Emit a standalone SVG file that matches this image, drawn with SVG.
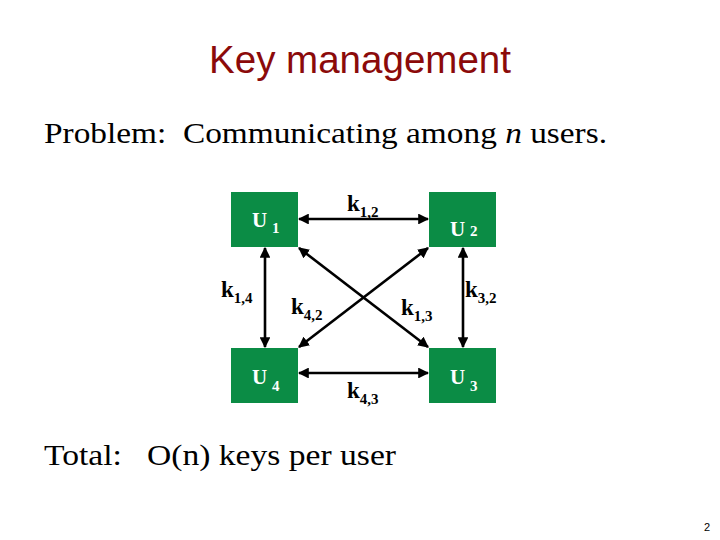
<svg xmlns="http://www.w3.org/2000/svg" width="720" height="540" viewBox="0 0 720 540">
<style>
.title{font-family:"Liberation Sans","Open Sans",sans-serif;font-size:38px;fill:#8b0a0a}
.body{font-family:"Liberation Serif","DejaVu Serif",serif;font-size:30px;fill:#000;white-space:pre}
.box{fill:#0b8c45}
.ul{font-family:"Liberation Serif",serif;font-size:21px;font-weight:bold;fill:#fff}
.kl{font-family:"Liberation Serif",serif;font-size:23px;font-weight:bold;fill:#000}
.sub{font-size:15px}
.con line{stroke:#000;stroke-width:2.6;marker-start:url(#ah);marker-end:url(#ah)}
</style>
<defs>
<marker id="ah" viewBox="0 0 10 10" refX="9" refY="5" markerWidth="4.2" markerHeight="4.2" orient="auto-start-reverse" markerUnits="strokeWidth">
<path d="M0,0 L10,5 L0,10 z" fill="#000"/>
</marker>
</defs>
<rect width="720" height="540" fill="#fff"/>
<text class="title" x="360" y="73" text-anchor="middle" textLength="302" lengthAdjust="spacingAndGlyphs">Key management</text>
<text class="body" x="44" y="143" textLength="563" lengthAdjust="spacingAndGlyphs">Problem:  Communicating among <tspan font-style="italic">n</tspan> users.</text>
<g class="con">
<line x1="299" y1="219" x2="428" y2="219"/>
<line x1="299" y1="373" x2="428" y2="373"/>
<line x1="265" y1="248" x2="265" y2="347"/>
<line x1="463" y1="248" x2="463" y2="347"/>
<line x1="299" y1="248" x2="428" y2="347"/>
<line x1="428" y1="248" x2="299" y2="347"/>
</g>
<g id="U1"><rect class="box" x="231" y="192" width="67" height="55"/><text class="ul" x="252" y="227">U<tspan class="sub" x="272" dy="6">1</tspan></text></g>
<g id="U2"><rect class="box" x="429" y="192" width="67" height="55"/><text class="ul" x="450" y="236">U<tspan class="sub" x="470" dy="0">2</tspan></text></g>
<g id="U4"><rect class="box" x="231" y="348" width="67" height="55"/><text class="ul" x="252" y="384">U<tspan class="sub" x="272" dy="7">4</tspan></text></g>
<g id="U3"><rect class="box" x="429" y="348" width="67" height="55"/><text class="ul" x="450" y="384">U<tspan class="sub" x="470" dy="7">3</tspan></text></g>
<g id="labels">
<text class="kl" x="347" y="211">k<tspan class="sub" dy="6">1,2</tspan></text>
<text class="kl" x="221" y="297">k<tspan class="sub" dy="6">1,4</tspan></text>
<text class="kl" x="291" y="314">k<tspan class="sub" dy="6">4,2</tspan></text>
<text class="kl" x="401" y="315">k<tspan class="sub" dy="6">1,3</tspan></text>
<text class="kl" x="465" y="297">k<tspan class="sub" dy="6">3,2</tspan></text>
<text class="kl" x="347" y="398">k<tspan class="sub" dy="6">4,3</tspan></text>
</g>
<text class="body" x="44" y="465" textLength="352" lengthAdjust="spacingAndGlyphs">Total:   O(n) keys per user</text>
<text x="704" y="531" font-family="Liberation Sans,sans-serif" font-size="11" fill="#000">2</text>
</svg>
